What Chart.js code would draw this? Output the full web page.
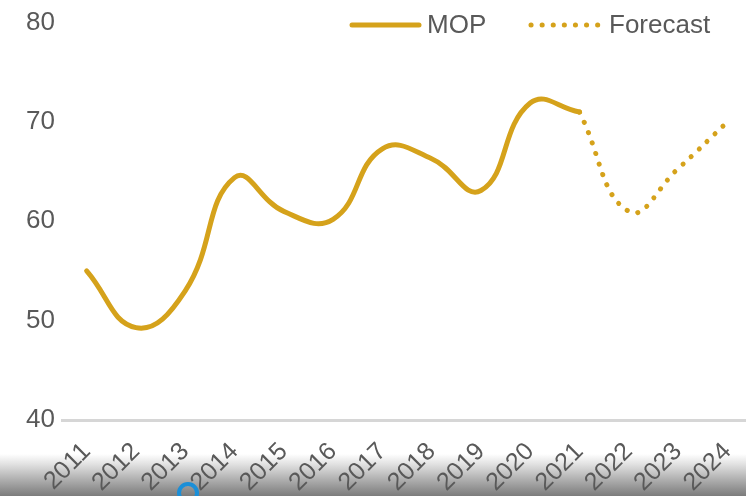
<!DOCTYPE html>
<html>
<head>
<meta charset="utf-8">
<script src="https://cdn.jsdelivr.net/npm/chart.js@4.4.1/dist/chart.umd.min.js"></script>
<style>
  html, body { margin: 0; padding: 0; overflow: hidden; }
  #wrap {
    position: relative; width: 746px; height: 496px; overflow: hidden;
    background: linear-gradient(to bottom, #fff 0px, #fff 454px, #e2e2e2 464px, #b4b4b4 478px, #8e8e8e 490px, #7c7c7c 496px);
  }
  #blob {
    position: absolute; left: 177px; top: 482px; width: 14px; height: 14px;
    border: 4px solid #1b8fd8; border-radius: 50%;
  }
</style>
</head>
<body>
<div id="wrap">
  <!-- canvas a bit wider than the window: plot runs off the right edge like the original -->
  <canvas id="ex_chart" width="752" height="496"></canvas>
  <div id="blob"></div>
</div>
<script>
// data
const years = ['2011', '2012', '2013', '2014', '2015', '2016', '2017', '2018', '2019', '2020', '2021', '2022', '2023', '2024'];
const mop = [55, 49.3, 53, 64.4, 61, 60.2, 67.3, 66.3, 63.1, 71.9, 71, null, null, null];
const forecast = [null, null, null, null, null, null, null, null, null, null, 71, 61, 65.3, 70];
const yTicks = [40, 50, 60, 70, 80];

const gold = '#D5A21B';
const grey = '#595959';
const font = "'Liberation Sans', Arial, sans-serif";

// legend drawn at the top right
const legendPlugin = {
    id: 'topLegend',
    afterDraw: function (chart) {
        const c = chart.ctx;
        const y = 25;
        c.save();
        c.strokeStyle = gold;
        c.lineCap = 'round';
        c.lineWidth = 5;
        c.beginPath();
        c.moveTo(352, y);
        c.lineTo(419, y);
        c.stroke();
        c.setLineDash([0.1, 11]);
        c.beginPath();
        c.moveTo(531, y);
        c.lineTo(599, y);
        c.stroke();
        c.setLineDash([]);
        c.fillStyle = grey;
        c.font = '26px ' + font;
        c.textBaseline = 'middle';
        c.fillText('MOP', 427, y + 1);
        c.fillText('Forecast', 609, y + 1);
        c.restore();
    }
};

const ctx = document.getElementById('ex_chart');

const data = {
    labels: years,
    datasets: [{
        label: 'MOP',
        data: mop,
        borderColor: gold,
        borderWidth: 5,
        borderCapStyle: 'round',
        tension: 0.45,
        pointRadius: 0
    }, {
        label: 'Forecast',
        data: forecast,
        borderColor: gold,
        borderWidth: 5,
        borderCapStyle: 'round',
        borderDash: [0.1, 11],
        tension: 0.45,
        pointRadius: 0
    }]
};

const options = {
    responsive: false,
    animation: false,
    layout: { padding: { left: 0, right: 0, top: 22, bottom: 0 } },
    plugins: {
        legend: { display: false },
        tooltip: { enabled: false }
    },
    scales: {
        x: {
            offset: true,
            grid: { display: false },
            border: { color: '#d6d6d6', width: 3 },
            ticks: {
                color: grey,
                font: { family: font, size: 25 },
                minRotation: 45,
                maxRotation: 45,
                autoSkip: false,
                padding: 9
            },
            afterFit: function (scale) {
                scale.height = 76;
                scale.paddingRight = 0;
            }
        },
        y: {
            min: yTicks[0],
            max: yTicks[yTicks.length - 1],
            grid: { display: false, drawTicks: false },
            border: { display: false },
            afterBuildTicks: function (scale) {
                scale.ticks = yTicks.map(v => ({ value: v }));
            },
            ticks: {
                color: grey,
                font: { family: font, size: 26 },
                padding: 7
            },
            afterFit: function (scale) { scale.width = 62; }
        }
    }
};

new Chart(ctx, {
    type: 'line',
    data: data,
    options: options,
    plugins: [legendPlugin]
});
</script>
</body>
</html>
